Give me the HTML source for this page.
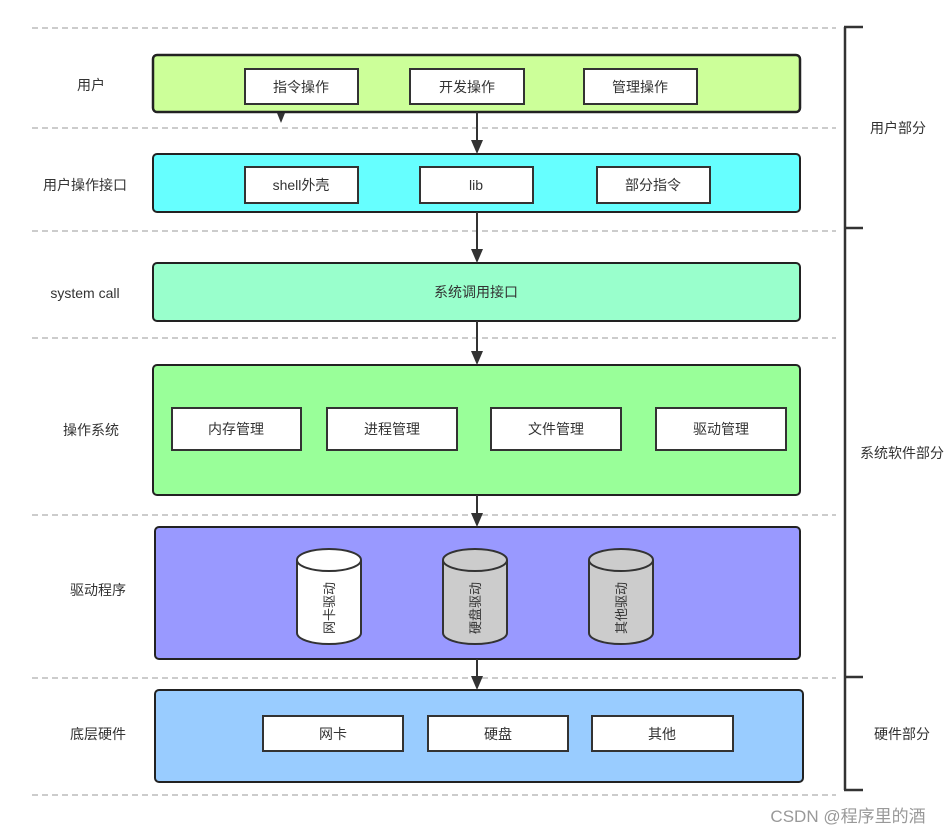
<!DOCTYPE html>
<html><head><meta charset="utf-8"><style>
html,body{margin:0;padding:0;background:#fff;}
svg text{font-family:"Liberation Sans","Noto Sans CJK SC",sans-serif;font-size:14px;fill:#333;}
</style></head><body>
<svg width="949" height="832" xmlns="http://www.w3.org/2000/svg">
<g stroke="#bbb" stroke-width="1.5" stroke-dasharray="6,4">
<line x1="32" y1="28" x2="836" y2="28"/>
<line x1="32" y1="128" x2="836" y2="128"/>
<line x1="32" y1="231" x2="836" y2="231"/>
<line x1="32" y1="338" x2="836" y2="338"/>
<line x1="32" y1="515" x2="836" y2="515"/>
<line x1="32" y1="678" x2="836" y2="678"/>
<line x1="32" y1="795" x2="836" y2="795"/>
</g>
<g stroke="#333" stroke-width="2.5" fill="none">
<line x1="845" y1="27" x2="845" y2="790"/>
<line x1="844" y1="27" x2="863" y2="27"/>
<line x1="844" y1="228" x2="863" y2="228"/>
<line x1="844" y1="677" x2="863" y2="677"/>
<line x1="844" y1="790" x2="863" y2="790"/>
</g>
<text x="898" y="133" text-anchor="middle">用户部分</text>
<text x="902" y="458" text-anchor="middle">系统软件部分</text>
<text x="902" y="739" text-anchor="middle">硬件部分</text>
<g text-anchor="middle">
<text x="91" y="90">用户</text>
<text x="85" y="190">用户操作接口</text>
<text x="85" y="298">system call</text>
<text x="91" y="435">操作系统</text>
<text x="98" y="595">驱动程序</text>
<text x="98" y="739">底层硬件</text>
</g>
<g stroke="#222" stroke-width="2">
<rect x="153" y="55" width="647" height="57" rx="4" fill="#ccff99" stroke-width="2.5"/>
<rect x="153" y="154" width="647" height="58" rx="4" fill="#66ffff"/>
<rect x="153" y="263" width="647" height="58" rx="4" fill="#99ffcc"/>
<rect x="153" y="365" width="647" height="130" rx="4" fill="#99ff99"/>
<rect x="155" y="527" width="645" height="132" rx="4" fill="#9999ff"/>
<rect x="155" y="690" width="648" height="92" rx="4" fill="#99ccff"/>
</g>
<g stroke="#333" stroke-width="2" fill="#fff">
<rect x="245" y="69" width="113" height="35"/>
<rect x="410" y="69" width="114" height="35"/>
<rect x="584" y="69" width="113" height="35"/>
<rect x="245" y="167" width="113" height="36"/>
<rect x="420" y="167" width="113" height="36"/>
<rect x="597" y="167" width="113" height="36"/>
<rect x="172" y="408" width="129" height="42"/>
<rect x="327" y="408" width="130" height="42"/>
<rect x="491" y="408" width="130" height="42"/>
<rect x="656" y="408" width="130" height="42"/>
<rect x="263" y="716" width="140" height="35"/>
<rect x="428" y="716" width="140" height="35"/>
<rect x="592" y="716" width="141" height="35"/>
</g>
<g text-anchor="middle">
<text x="301" y="92">指令操作</text>
<text x="467" y="92">开发操作</text>
<text x="640" y="92">管理操作</text>
<text x="301" y="190">shell外壳</text>
<text x="476" y="190">lib</text>
<text x="653" y="190">部分指令</text>
<text x="476" y="297">系统调用接口</text>
<text x="236" y="434">内存管理</text>
<text x="392" y="434">进程管理</text>
<text x="556" y="434">文件管理</text>
<text x="721" y="434">驱动管理</text>
<text x="333" y="739">网卡</text>
<text x="498" y="739">硬盘</text>
<text x="662" y="739">其他</text>
</g>
<g stroke="#333" stroke-width="2">
<path d="M297,560 L297,633 A32,11 0 0 0 361,633 L361,560 A32,11 0 0 0 297,560 Z" fill="#fff"/>
<path d="M297,560 A32,11 0 0 0 361,560" fill="none"/>
<path d="M443,560 L443,633 A32,11 0 0 0 507,633 L507,560 A32,11 0 0 0 443,560 Z" fill="#ccc"/>
<path d="M443,560 A32,11 0 0 0 507,560" fill="none"/>
<path d="M589,560 L589,633 A32,11 0 0 0 653,633 L653,560 A32,11 0 0 0 589,560 Z" fill="#ccc"/>
<path d="M589,560 A32,11 0 0 0 653,560" fill="none"/>
</g>
<g text-anchor="middle">
<text transform="translate(334,608) rotate(-90)" style="font-size:13px">网卡驱动</text>
<text transform="translate(480,608) rotate(-90)" style="font-size:13px">硬盘驱动</text>
<text transform="translate(626,608) rotate(-90)" style="font-size:13px">其他驱动</text>
</g>
<g stroke="#333" stroke-width="2">
<line x1="477" y1="112" x2="477" y2="142"/>
<line x1="477" y1="212" x2="477" y2="251"/>
<line x1="477" y1="321" x2="477" y2="353"/>
<line x1="477" y1="495" x2="477" y2="515"/>
<line x1="477" y1="659" x2="477" y2="678"/>
</g>
<g fill="#333">
<polygon points="471,140 483,140 477,154"/>
<polygon points="471,249 483,249 477,263"/>
<polygon points="471,351 483,351 477,365"/>
<polygon points="471,513 483,513 477,527"/>
<polygon points="471,676 483,676 477,690"/>
<polygon points="277,113 285,113 281,123"/>
</g>
<text x="848" y="822" text-anchor="middle" style="fill:#999;font-size:17px">CSDN @程序里的酒</text>
</svg>
</body></html>
